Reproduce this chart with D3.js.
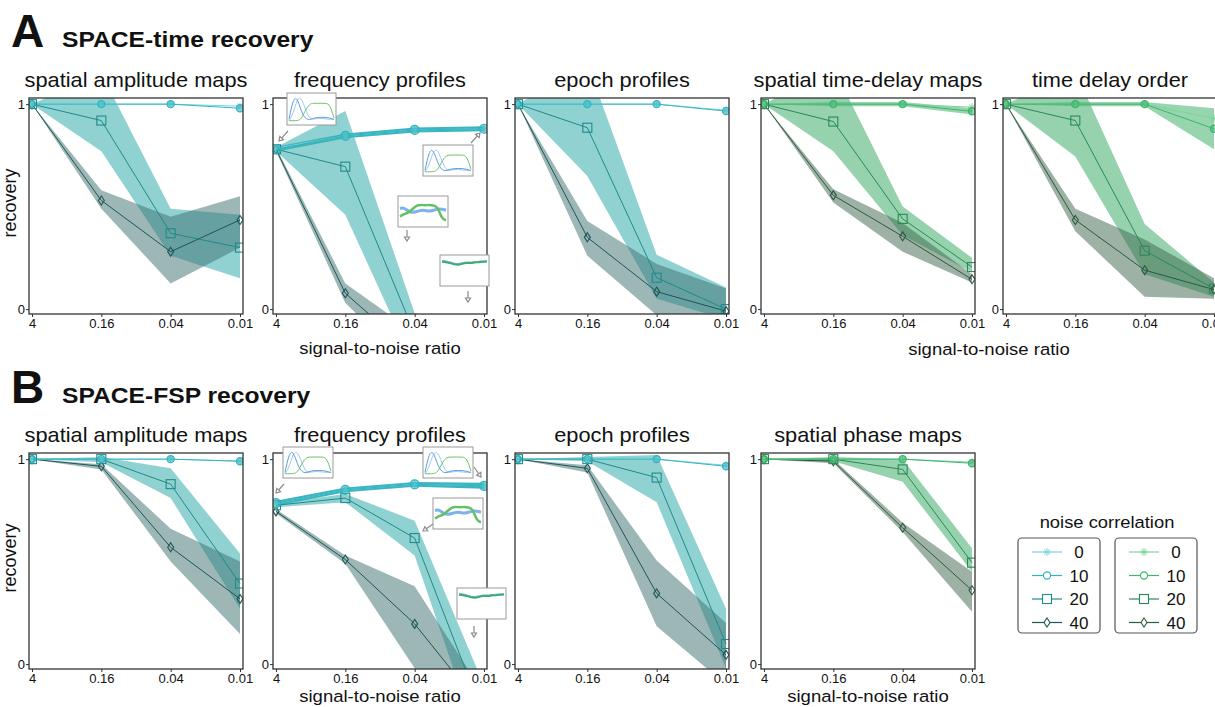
<!DOCTYPE html>
<html>
<head>
<meta charset="utf-8">
<script src="https://cdn.jsdelivr.net/npm/d3@7"></script>
<style>
  body { margin: 0; background: #fff; }
  text { font-family: "Liberation Sans", Arial, sans-serif; fill: #111; }
</style>
</head>
<body>
<svg id="fig"></svg>
<script>
// x categories (signal-to-noise ratio) and series (noise correlation)
const snr = ["4", "0.16", "0.04", "0.01"];
const noiseLevels = ["0", "10", "20", "40"];

// each array: rows = noise correlation 0,10,20,40 ; cols = snr 4,0.16,0.04,0.01
// A: SPACE-time, spatial amplitude maps
const aAmpMean = [[1,1,1,0.99],[1,1,1,0.98],[1,0.92,0.37,0.30],[1,0.53,0.28,0.435]];
const aAmpLo   = [[1,1,1,0.99],[1,1,1,0.98],[1,0.77,0.26,0.15],[1,0.49,0.125,0.30]];
const aAmpHi   = [[1,1,1,0.99],[1,1,1,0.98],[1,1.15,0.49,0.46],[1,0.58,0.45,0.55]];
// A: frequency profiles
const aFreqMean = [[0.785,0.845,0.874,0.88],[0.78,0.845,0.874,0.88],[0.78,0.695,-0.12,-0.2],[0.78,0.077,-0.22,-0.3]];
const aFreqLo   = [[0.785,0.845,0.874,0.88],[0.768,0.833,0.862,0.868],[0.77,0.46,-0.28,-0.4],[0.77,0.03,-0.3,-0.4]];
const aFreqHi   = [[0.785,0.845,0.874,0.88],[0.792,0.857,0.886,0.892],[0.79,0.967,-0.02,-0.1],[0.79,0.125,-0.115,-0.2]];
// A: epoch profiles
const aEpochMean = [[1,1,1,0.97],[1,1,1,0.966],[1,0.885,0.153,0.0],[1,0.35,0.085,-0.01]];
const aEpochLo   = [[1,1,1,0.97],[1,1,1,0.966],[1,0.65,0.05,-0.05],[1,0.26,-0.03,-0.1]];
const aEpochHi   = [[1,1,1,0.97],[1,1,1,0.966],[1,1.2,0.265,0.105],[1,0.43,0.22,0.1]];
// A: spatial time-delay maps
const aDelayMean = [[1,1,1,0.985],[1,1,1,0.965],[1,0.915,0.44,0.205],[1,0.555,0.355,0.145]];
const aDelayLo   = [[1,1,1,0.98],[1,0.99,0.99,0.95],[1,0.77,0.36,0.18],[1,0.52,0.28,0.13]];
const aDelayHi   = [[1,1,1,0.99],[1,1.01,1.01,0.98],[1,1.18,0.5,0.25],[1,0.585,0.42,0.17]];
// A: time delay order
const aOrderMean = [[1,1,1,0.93],[1,1,1,0.88],[1,0.92,0.285,0.1],[1,0.435,0.19,0.095]];
const aOrderLo   = [[1,1,1,0.85],[1,0.99,0.99,0.78],[1,0.745,0.17,0.06],[1,0.38,0.06,0.05]];
const aOrderHi   = [[1,1,1,1.0],[1,1.01,1.01,0.98],[1,1.16,0.415,0.13],[1,0.49,0.34,0.15]];
// B: SPACE-FSP, spatial amplitude maps
const bAmpMean = [[1,1,1,0.99],[1,1,1,0.99],[1,1,0.878,0.393],[1,0.965,0.57,0.318]];
const bAmpLo   = [[1,1,1,0.99],[1,1,1,0.99],[1,0.985,0.81,0.27],[1,0.95,0.5,0.147]];
const bAmpHi   = [[1,1,1,0.99],[1,1,1,0.99],[1,1.01,0.955,0.54],[1,0.975,0.66,0.5]];
// B: frequency profiles
const bFreqMean = [[0.785,0.85,0.877,0.87],[0.785,0.85,0.877,0.87],[0.775,0.81,0.615,-0.26],[0.745,0.51,0.196,-0.226]];
const bFreqLo   = [[0.785,0.85,0.877,0.87],[0.773,0.838,0.865,0.855],[0.765,0.79,0.53,-0.46],[0.735,0.49,-0.02,-0.5]];
const bFreqHi   = [[0.785,0.85,0.877,0.87],[0.797,0.862,0.889,0.885],[0.785,0.83,0.7,-0.104],[0.755,0.53,0.38,-0.146]];
// B: epoch profiles
const bEpochMean = [[1,1,1,0.97],[1,1,1,0.965],[1,1,0.91,0.098],[1,0.955,0.345,0.045]];
const bEpochLo   = [[1,1,1,0.97],[1,1,1,0.965],[1,0.99,0.79,-0.02],[1,0.935,0.184,-0.1]];
const bEpochHi   = [[1,1,1,0.97],[1,1,1,0.965],[1,1.01,1.02,0.27],[1,0.97,0.505,0.2]];
// B: spatial phase maps
const bPhaseMean = [[1,1,1,0.985],[1,1,1,0.98],[1,1,0.95,0.495],[1,0.99,0.665,0.36]];
const bPhaseLo   = [[1,1,1,0.985],[1,1,1,0.98],[1,0.99,0.89,0.45],[1,0.98,0.645,0.255]];
const bPhaseHi   = [[1,1,1,0.985],[1,1,1,0.98],[1,1.01,1.0,0.565],[1,1.0,0.69,0.45]];

// little spectra shown in the insets of the frequency panels
const specBlue  = [0.1,0.9,0.95,0.4,0.12,0.08,0.15,0.18,0.18,0.18,0.15,0.1];
const specCyan  = [0.05,0.3,0.9,0.95,0.5,0.12,0.1,0.14,0.14,0.12,0.1,0.1];
const specGreen = [0.05,0.05,0.05,0.1,0.45,0.7,0.72,0.72,0.72,0.72,0.68,0.15];
const noisyBlue  = [0.62,0.66,0.5,0.45,0.5,0.55,0.55,0.5,0.55,0.6,0.6,0.55];
const noisyGreen = [0.3,0.4,0.45,0.6,0.75,0.76,0.75,0.76,0.75,0.7,0.2,0.15];
const flatGreen  = [0.85,0.83,0.8,0.74,0.72,0.78,0.8,0.8,0.82,0.83,0.85,0.86];
const flatBlue   = [0.88,0.86,0.82,0.77,0.75,0.8,0.82,0.82,0.84,0.85,0.86,0.87];

const width = 1215, height = 707;
const boxW = 214, boxH = 216;
const colLeft = [29, 273, 515, 761, 1003];
const rowTop = [98, 453];

const palettes = {
  teal: {
    line: ["#7dd4e2", "#33b4c0", "#1f8b8b", "#1e5555"],
    band: [null, "#3ab6c1", "rgba(70,178,178,0.6)", "rgba(60,112,112,0.5)"],
    bandThick: "#3ab6c1"
  },
  green: {
    line: ["#7fd49b", "#3cb56c", "#2a8858", "#2b5a3e"],
    band: [null, "rgba(80,185,120,0.6)", "rgba(80,180,120,0.6)", "rgba(60,100,75,0.5)"],
    bandThick: "#3cb56c"
  }
};

const panels = [
  {row: 0, col: 0, title: "spatial amplitude maps", pal: "teal", mean: aAmpMean, lo: aAmpLo, hi: aAmpHi},
  {row: 0, col: 1, title: "frequency profiles", pal: "teal", mean: aFreqMean, lo: aFreqLo, hi: aFreqHi, freq: true},
  {row: 0, col: 2, title: "epoch profiles", pal: "teal", mean: aEpochMean, lo: aEpochLo, hi: aEpochHi},
  {row: 0, col: 3, title: "spatial time-delay maps", pal: "green", mean: aDelayMean, lo: aDelayLo, hi: aDelayHi},
  {row: 0, col: 4, title: "time delay order", pal: "green", mean: aOrderMean, lo: aOrderLo, hi: aOrderHi},
  {row: 1, col: 0, title: "spatial amplitude maps", pal: "teal", mean: bAmpMean, lo: bAmpLo, hi: bAmpHi},
  {row: 1, col: 1, title: "frequency profiles", pal: "teal", mean: bFreqMean, lo: bFreqLo, hi: bFreqHi, freq: true},
  {row: 1, col: 2, title: "epoch profiles", pal: "teal", mean: bEpochMean, lo: bEpochLo, hi: bEpochHi},
  {row: 1, col: 3, title: "spatial phase maps", pal: "green", mean: bPhaseMean, lo: bPhaseLo, hi: bPhaseHi}
];

const svg = d3.select("#fig")
  .attr("width", width)
  .attr("height", height)
  .attr("viewBox", [0, 0, width, height]);

// text that is a bit wider than the font (the source figure is stretched sideways)
function label(x, y, str, size, opts = {}) {
  return svg.append("text")
    .attr("transform", `translate(${x},${y}) scale(${opts.sx || 1},1)`)
    .attr("text-anchor", opts.anchor || "middle")
    .attr("font-size", size)
    .attr("font-weight", opts.bold ? "bold" : null)
    .text(str);
}

// marker shapes: 0 asterisk, 1 circle, 2 square, 3 diamond
function marker(g, s, cx, cy, color, big, open) {
  if (s === 0) {
    const r = 4;
    const p = d3.path();
    for (let k = 0; k < 4; k++) {
      const a = k * Math.PI / 4;
      p.moveTo(cx - r * Math.cos(a), cy - r * Math.sin(a));
      p.lineTo(cx + r * Math.cos(a), cy + r * Math.sin(a));
    }
    g.append("path").attr("d", p.toString()).attr("stroke", color).attr("stroke-width", 1).attr("fill", "none");
  } else if (s === 1) {
    g.append("circle").attr("cx", cx).attr("cy", cy).attr("r", big ? 4.5 : 3.6)
      .attr("fill", open ? "#fff" : color).attr("fill-opacity", open ? 1 : 0.55)
      .attr("stroke", color).attr("stroke-width", 1.2);
  } else if (s === 2) {
    g.append("rect").attr("x", cx - 4.5).attr("y", cy - 4.5).attr("width", 9).attr("height", 9)
      .attr("fill", open ? "#fff" : "none").attr("stroke", color).attr("stroke-width", 1.1);
  } else {
    g.append("path").attr("d", `M${cx},${cy - 4.5}L${cx + 3},${cy}L${cx},${cy + 4.5}L${cx - 3},${cy}Z`)
      .attr("fill", open ? "#fff" : "none").attr("stroke", color).attr("stroke-width", 1.1);
  }
}

panels.forEach((p, i) => {
  const left = colLeft[p.col], top = rowTop[p.row];
  const pal = palettes[p.pal];
  const x = d3.scalePoint().domain(snr).range([left + 3, left + boxW - 3]);
  const y = d3.scaleLinear().domain([-0.024, 1.03]).range([top + boxH, top]);

  svg.append("clipPath").attr("id", "clip" + i)
    .append("rect").attr("x", left).attr("y", top).attr("width", boxW).attr("height", boxH);

  const g = svg.append("g");
  const inner = g.append("g").attr("clip-path", `url(#clip${i})`);

  // shaded bands (spread across repetitions)
  const area = d3.area().x(d => x(d.x)).y0(d => y(d.lo)).y1(d => y(d.hi));
  [1, 2, 3].forEach(s => {
    const pts = snr.map((c, j) => ({x: c, lo: p.lo[s][j], hi: p.hi[s][j]}));
    inner.append("path").attr("d", area(pts))
      .attr("fill", s === 1 && p.freq ? pal.bandThick : pal.band[s]);
  });

  // mean lines
  const line = d3.line().x(d => x(d.x)).y(d => y(d.v));
  [3, 2, 0, 1].forEach(s => {
    const pts = snr.map((c, j) => ({x: c, v: p.mean[s][j]}));
    inner.append("path").attr("d", line(pts))
      .attr("fill", "none").attr("stroke", pal.line[s]).attr("stroke-width", 1);
  });
  [3, 2, 0, 1].forEach(s => {
    snr.forEach((c, j) => marker(inner, s, x(c), y(p.mean[s][j]), pal.line[s], p.freq));
  });

  // frame
  g.append("rect").attr("x", left).attr("y", top).attr("width", boxW).attr("height", boxH)
    .attr("fill", "none").attr("stroke", "#333").attr("stroke-width", 1.3);

  const yAxis = g.append("g").attr("transform", `translate(${left},0)`)
    .call(d3.axisLeft(y).tickValues([0, 1]).tickFormat(d3.format("d")).tickSize(3).tickSizeOuter(0).tickPadding(1));
  const xAxis = g.append("g").attr("transform", `translate(0,${top + boxH})`)
    .call(d3.axisBottom(x).tickSize(3).tickSizeOuter(0).tickPadding(2));
  [yAxis, xAxis].forEach(a => {
    a.select(".domain").remove();
    a.selectAll("line").attr("stroke", "#333");
    a.selectAll("text").attr("font-size", 13).attr("fill", "#222")
      .style("font-family", "'Liberation Sans', Arial, sans-serif");
  });

  label(left + boxW / 2, top - 11, p.title, 20, {sx: 1.09});
});

// section headers
[["A", "SPACE-time recovery", 47], ["B", "SPACE-FSP recovery", 403]].forEach(([letter, text, base]) => {
  label(11, base, letter, 46, {anchor: "start", bold: true});
  label(62, base, text, 22, {anchor: "start", bold: true, sx: 1.12});
});

// axis titles
rowTop.forEach(top => {
  svg.append("text").attr("transform", `translate(16,${top + 105}) rotate(-90)`)
    .attr("text-anchor", "middle").attr("font-size", 18).text("recovery");
});
[[380, 354], [989, 355], [380, 702], [868, 702]].forEach(([cx, by]) => {
  label(cx, by, "signal-to-noise ratio", 17, {sx: 1.09});
});

// insets in the frequency-profile panels
function inset(x0, y0, w, h, curves) {
  const g = svg.append("g");
  g.append("rect").attr("x", x0).attr("y", y0).attr("width", w).attr("height", h)
    .attr("fill", "#fff").attr("stroke", "#9a9a9a").attr("stroke-width", 1);
  curves.forEach(([vals, color, sw]) => {
    const sx = d3.scaleLinear().domain([0, vals.length - 1]).range([x0 + 2, x0 + w - 2]);
    const sy = d3.scaleLinear().domain([0, 1]).range([y0 + h - 3, y0 + 3]);
    g.append("path")
      .attr("d", d3.line().x((d, k) => sx(k)).y(d => sy(d)).curve(d3.curveBasis)(vals))
      .attr("fill", "none").attr("stroke", color).attr("stroke-width", sw);
  });
}
function arrow(x1, y1, x2, y2) {
  const a = Math.atan2(y2 - y1, x2 - x1), L = 4;
  const g = svg.append("g").attr("stroke", "#8a8a8a").attr("fill", "#fff").attr("stroke-width", 1.2);
  g.append("line").attr("x1", x1).attr("y1", y1).attr("x2", x2 - L * Math.cos(a)).attr("y2", y2 - L * Math.sin(a));
  g.append("path").attr("d",
    `M${x2},${y2}L${x2 - L * Math.cos(a) + 2.5 * Math.sin(a)},${y2 - L * Math.sin(a) - 2.5 * Math.cos(a)}` +
    `L${x2 - L * Math.cos(a) - 2.5 * Math.sin(a)},${y2 - L * Math.sin(a) + 2.5 * Math.cos(a)}Z`);
}
const clean = [[specCyan, "#9ec9ee", 1], [specBlue, "#5b9be0", 1], [specGreen, "#6cc36c", 1]];
const noisy = [[noisyBlue, "#7fb2ea", 3], [noisyGreen, "#63c163", 2.5]];
const flat = [[flatBlue, "#7fb2ea", 2], [flatGreen, "#3fae6c", 2]];

inset(287, 93, 49, 32, clean);
inset(423, 145, 50, 31, clean);
inset(398, 196, 50, 31, noisy);
inset(440, 255, 49, 31, flat);
arrow(288, 131, 279, 141);
arrow(471, 143, 480, 133);
arrow(407, 230, 407, 241);
arrow(468, 291, 468, 302);

inset(283, 447, 50, 31, clean);
inset(423, 447, 50, 31, clean);
inset(433, 498, 50, 31, noisy);
inset(457, 588, 49, 31, flat);
arrow(284, 484, 276, 493);
arrow(474, 467, 481, 477);
arrow(433, 524, 423, 531);
arrow(474, 626, 474, 637);

// legend
label(1107, 528, "noise correlation", 17, {sx: 1.08});
[[1018, palettes.teal], [1115, palettes.green]].forEach(([bx, pal]) => {
  const g = svg.append("g");
  g.append("rect").attr("x", bx).attr("y", 538).attr("width", 82).attr("height", 95).attr("rx", 4)
    .attr("fill", "#fff").attr("stroke", "#555").attr("stroke-width", 1.2);
  noiseLevels.forEach((lab, s) => {
    const cy = 552 + s * 23.5;
    g.append("line").attr("x1", bx + 14).attr("x2", bx + 44).attr("y1", cy).attr("y2", cy)
      .attr("stroke", pal.line[s]).attr("stroke-width", 1.2);
    marker(g, s, bx + 29, cy, pal.line[s], false, true);
    g.append("text").attr("x", bx + 61).attr("y", cy).attr("dy", "0.36em").attr("text-anchor", "middle")
      .attr("font-size", 17).text(lab);
  });
});
</script>
</body>
</html>
